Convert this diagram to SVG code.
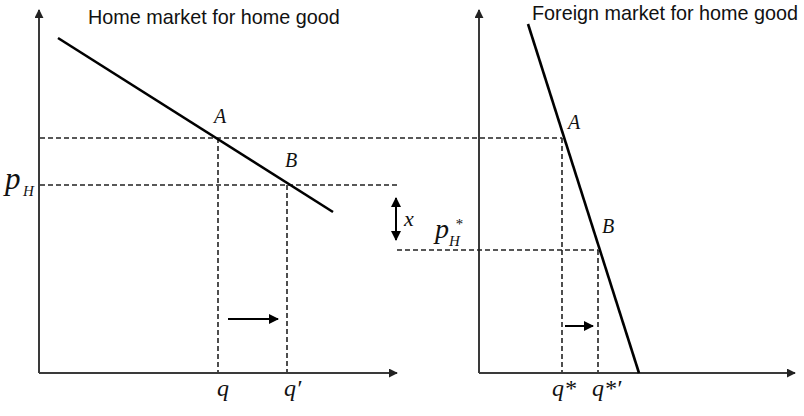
<svg xmlns="http://www.w3.org/2000/svg" width="804" height="416" viewBox="0 0 804 416">
<defs>
<style>
.axis{stroke:#3a3a3a;stroke-width:2;fill:none}
.curve{stroke:#000;stroke-width:2.6;fill:none}
.dash{stroke:#222;stroke-width:1.6;stroke-dasharray:5,3;fill:none}
.arr{stroke:#000;stroke-width:2;fill:none}
.title{font-family:"Liberation Sans",Arial,sans-serif;font-size:19.8px;fill:#111}
.m{font-family:"Liberation Serif","Times New Roman",serif;font-style:italic;fill:#111}
</style>
<marker id="ah" viewBox="0 0 10 10" refX="9" refY="5" markerWidth="9" markerHeight="9" markerUnits="userSpaceOnUse" orient="auto-start-reverse">
<path d="M0,0 L10,5 L0,10 z" fill="#222"/>
</marker>
<marker id="ah2" viewBox="0 0 10 10" refX="9" refY="5" markerWidth="10" markerHeight="10" markerUnits="userSpaceOnUse" orient="auto-start-reverse">
<path d="M0,0 L10,5 L0,10 z" fill="#000"/>
</marker>
</defs>
<rect width="804" height="416" fill="#fff"/>
<g id="axes">
<line class="axis" x1="39" y1="373" x2="39" y2="10" marker-end="url(#ah)"/>
<line class="axis" x1="39" y1="373" x2="397" y2="373" marker-end="url(#ah)"/>
<line class="axis" x1="479" y1="373" x2="479" y2="10" marker-end="url(#ah)"/>
<line class="axis" x1="479" y1="373" x2="795" y2="373" marker-end="url(#ah)"/>
</g>
<g id="guides">
<line class="dash" x1="40" y1="138" x2="562" y2="138"/>
<line class="dash" x1="40" y1="185" x2="400" y2="185"/>
<line class="dash" x1="397" y1="250" x2="598" y2="250"/>
<line class="dash" x1="218" y1="138" x2="218" y2="372"/>
<line class="dash" x1="287" y1="185" x2="287" y2="372"/>
<line class="dash" x1="562" y1="138" x2="562" y2="372"/>
<line class="dash" x1="598" y1="250" x2="598" y2="372"/>
</g>
<g id="curves">
<line class="curve" x1="58" y1="38" x2="333" y2="212"/>
<line class="curve" x1="528" y1="24" x2="639" y2="373"/>
</g>
<g id="arrows">
<line class="arr" x1="228" y1="319" x2="278" y2="319" marker-end="url(#ah2)"/>
<line class="arr" x1="565" y1="326" x2="593" y2="326" marker-end="url(#ah2)"/>
<line class="arr" x1="396" y1="198" x2="396" y2="240" marker-start="url(#ah2)" marker-end="url(#ah2)"/>
</g>
<g id="labels">
<text class="title" x="88" y="24">Home market for home good</text>
<text class="title" x="532" y="20">Foreign market for home good</text>
<text class="m" x="214" y="123" font-size="20">A</text>
<text class="m" x="285" y="167" font-size="20">B</text>
<text class="m" x="568" y="129" font-size="20">A</text>
<text class="m" x="602" y="233" font-size="20">B</text>
<text class="m" x="5" y="189" font-size="31">p</text>
<text class="m" x="23" y="196" font-size="15">H</text>
<text class="m" x="435" y="238" font-size="28">p</text>
<text class="m" x="449" y="246" font-size="15">H</text>
<text class="m" x="455" y="229" font-size="15">*</text>
<text class="m" x="404" y="226" font-size="22">x</text>
<text class="m" x="217" y="396" font-size="24">q</text>
<text class="m" x="284" y="396" font-size="24">q′</text>
<text class="m" x="552" y="396" font-size="24">q*</text>
<text class="m" x="592" y="396" font-size="24">q*′</text>
</g>
</svg>
